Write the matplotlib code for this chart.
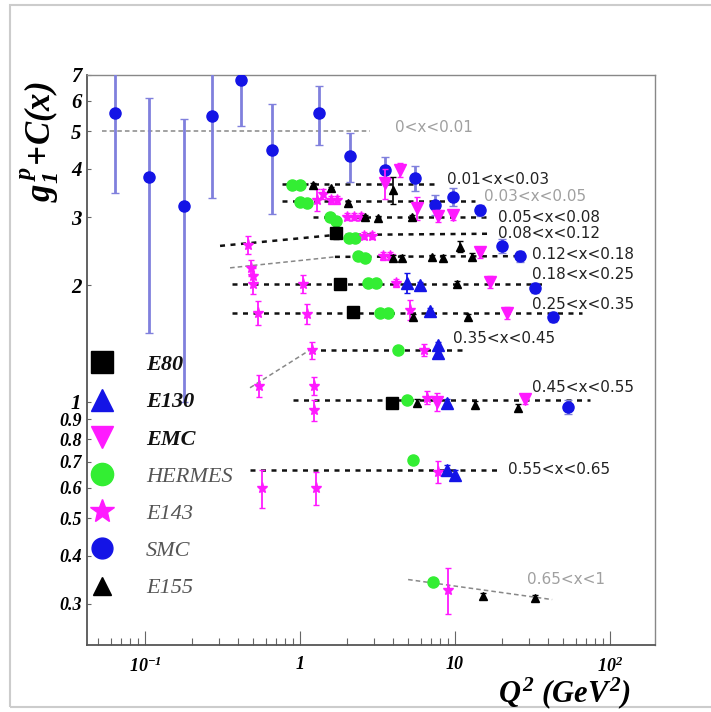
import matplotlib.pyplot as plt
from matplotlib.lines import Line2D
from matplotlib.patches import Rectangle
from matplotlib.font_manager import FontProperties

plt.rcParams['mathtext.fontset'] = 'custom'
plt.rcParams['mathtext.it'] = 'Liberation Serif:italic:bold'
plt.rcParams['mathtext.rm'] = 'Liberation Serif:italic:bold'
plt.rcParams['mathtext.bf'] = 'Liberation Serif:italic:bold'

# g1p + C(x) versus Q^2, one series per experiment
smc_q2 = [0.064, 0.106, 0.179, 0.271, 0.416, 0.660, 1.33, 2.10,
          3.54, 5.52, 7.43, 9.71, 14.5, 20.1, 26.3, 32.8, 42.9, 53.6]
smc_g1 = [5.59, 3.81, 3.20, 5.49, 6.79, 4.48, 5.58, 4.33,
          3.98, 3.79, 3.23, 3.39, 3.13, 2.53, 2.38, 1.97, 1.66, 0.97]
smc_err = [2.13, 2.30, 2.20, 2.12, 1.62, 1.42, 0.97, 0.63,
           0.32, 0.28, 0.19, 0.18, 0.10, 0.10, 0.08, 0.06, 0.05, 0.04]

e80_q2 = [1.71, 1.81, 2.20, 3.92]
e80_g1 = [2.73, 2.02, 1.71, 0.994]
e80_err = [0.10, 0.05, 0.04, 0.03]

e130_q2 = [4.90, 5.94, 6.90, 7.77, 7.77, 8.88, 8.88, 10.0]
e130_g1 = [2.03, 2.01, 1.72, 1.40, 1.34, 0.994, 0.667, 0.648]
e130_err = [0.12, 0.03, 0.03, 0.03, 0.03, 0.02, 0.02, 0.02]

e155_q2 = [1.21, 1.59, 3.98, 2.04, 2.63, 3.19, 5.28, 3.98, 4.55, 7.11, 8.37,
           10.8, 12.9, 10.3, 5.36, 12.1, 5.69, 13.5, 25.5, 15.2, 32.8]
e155_g1 = [3.64, 3.57, 3.53, 3.27, 3.01, 2.99, 3.01, 2.36, 2.36, 2.37, 2.36,
           2.52, 2.37, 2.02, 1.66, 1.66, 0.994, 0.982, 0.965, 0.315, 0.311]
e155_err = [0.03, 0.03, 0.28, 0.03, 0.03, 0.03, 0.03, 0.03, 0.03, 0.03, 0.03,
            0.08, 0.05, 0.03, 0.03, 0.03, 0.02, 0.02, 0.02, 0.006, 0.006]

hermes_q2 = [0.888, 1.0, 1.0, 1.11, 1.56, 1.71, 2.07, 2.26, 2.37, 2.63, 2.75,
             3.09, 3.28, 3.70, 4.29, 4.90, 5.36, 7.21]
hermes_g1 = [3.64, 3.64, 3.29, 3.27, 3.01, 2.94, 2.65, 2.65, 2.38, 2.36, 2.03,
             2.03, 1.70, 1.70, 1.36, 1.01, 0.708, 0.341]

e143_q2 = [1.29, 1.41, 1.59, 1.73, 2.01, 2.23, 2.48, 0.462, 2.59, 2.91,
           0.483, 0.497, 3.43, 3.81, 0.497, 1.05, 4.16, 0.536, 1.11, 5.13,
           0.544, 1.20, 6.31, 1.23, 1.23, 6.60, 0.569, 1.27, 7.77, 9.01]
e143_g1 = [3.33, 3.45, 3.33, 3.33, 3.01, 3.01, 3.01, 2.55, 2.69, 2.69,
           2.22, 2.12, 2.38, 2.38, 2.02, 2.02, 2.03, 1.70, 1.69, 1.73,
           1.10, 1.36, 1.36, 1.10, 0.953, 1.024, 0.600, 0.600, 0.659, 0.327]
e143_err = [0.22, 0.10, 0.08, 0.08, 0.06, 0.06, 0.06, 0.14, 0.06, 0.06,
            0.10, 0.10, 0.06, 0.06, 0.12, 0.11, 0.05, 0.12, 0.10, 0.10,
            0.07, 0.07, 0.05, 0.06, 0.06, 0.04, 0.068, 0.058, 0.043, 0.044]

emc_q2 = [3.54, 4.42, 5.69, 7.77, 9.71, 14.5, 16.8, 21.7, 7.66, 28.3]
emc_g1 = [3.68, 3.98, 3.17, 3.02, 3.04, 2.44, 2.04, 1.70, 1.00, 1.018]
emc_err = [0.33, 0.17, 0.21, 0.11, 0.08, 0.08, 0.07, 0.06, 0.055, 0.03]

# x-bin labels and the fit curves drawn through each bin
bin_labels = ['0<x<0.01', '0.01<x<0.03', '0.03<x<0.05', '0.05<x<0.08',
              '0.08<x<0.12', '0.12<x<0.18', '0.18<x<0.25', '0.25<x<0.35',
              '0.35<x<0.45', '0.45<x<0.55', '0.55<x<0.65', '0.65<x<1']
label_q2 = [4.1, 8.9, 15.4, 18.9, 18.9, 31.4, 31.4, 31.4, 9.7, 31.4, 22.0, 29.2]
label_g1 = [5.13, 3.75, 3.39, 2.99, 2.73, 2.40, 2.13, 1.78, 1.455, 1.087, 0.667, 0.347]
label_gray = [True, False, True, False, False, False, False, False, False, False, False, True]

fit_q2 = [[0.0528, 2.83], [0.765, 7.66], [0.765, 13.5], [1.21, 16.8],
          [0.305, 1.68, 16.8], [0.354, 1.68], [1.68, 28.3], [0.364, 38.1],
          [0.364, 66.0], [0.476, 1.16], [1.16, 11.3], [0.90, 74.3],
          [0.476, 18.7], [4.98, 42.3]]
fit_g1 = [[5.0, 5.0], [3.66, 3.66], [3.31, 3.31], [3.01, 3.01],
          [2.53, 2.70, 2.72], [2.22, 2.37], [2.37, 2.38], [2.02, 2.02],
          [1.70, 1.70], [1.087, 1.362], [1.362, 1.362], [1.01, 1.01],
          [0.667, 0.667], [0.347, 0.308]]
fit_gray = [True, False, False, False, False, True, False, False,
            False, True, False, False, False, True]

BLUE = '#1414e6'
MAGENTA = '#ff1aff'
GREEN = '#33ee33'

fig = plt.figure(figsize=(7.11, 7.12), dpi=100)
fig.patches.append(Rectangle((0.014, 0.007), 1.2, 0.986, transform=fig.transFigure,
                             fill=False, edgecolor='#cccccc', lw=1.5))
ax = fig.add_axes([0.1224, 0.0941, 0.7989, 0.8006])
ax.set_xscale('log')
ax.set_yscale('log')

for xs, ys, gray in zip(fit_q2, fit_g1, fit_gray):
    if gray:
        ax.plot(xs, ys, color='#888888', lw=1.1, ls=(0, (3, 2)), zorder=1)
    else:
        ax.plot(xs, ys, color='#111111', lw=1.8, ls=(0, (2, 2.2)), zorder=1)

ax.errorbar(smc_q2, smc_g1, yerr=smc_err, fmt='o', color=BLUE, ms=8,
            ecolor='#8080dd', elinewidth=2, capsize=3, zorder=3)
ax.errorbar(e143_q2, e143_g1, yerr=e143_err, fmt='*', color=MAGENTA, ms=8,
            ecolor=MAGENTA, elinewidth=1.3, capsize=2.5, zorder=4)
ax.errorbar(emc_q2, emc_g1, yerr=emc_err, fmt='v', color=MAGENTA, ms=8,
            ecolor=MAGENTA, elinewidth=1.3, capsize=2.5, zorder=4)
ax.plot(hermes_q2, hermes_g1, 'o', color=GREEN, ms=8, zorder=4)
ax.errorbar(e130_q2, e130_g1, yerr=e130_err, fmt='^', color=BLUE, ms=8,
            ecolor=BLUE, elinewidth=1.3, capsize=2.5, zorder=5)
ax.errorbar(e80_q2, e80_g1, yerr=e80_err, fmt='s', color='black', ms=8,
            ecolor='black', elinewidth=1.3, capsize=2.5, zorder=5)
ax.errorbar(e155_q2, e155_g1, yerr=e155_err, fmt='^', color='black', ms=6,
            ecolor='black', elinewidth=1.2, capsize=2.5, zorder=5)

for txt, q, g, gray in zip(bin_labels, label_q2, label_g1, label_gray):
    ax.text(q, g, txt, fontsize=11, family='DejaVu Sans', va='center', ha='left',
            color='#a0a0a0' if gray else '#222222')

ax.set_xlim(0.0423, 195)
ax.set_ylim(0.235, 7.0)

tick_font = FontProperties(family='Liberation Serif', style='italic', weight='bold', size=13)
yticks = [0.3, 0.4, 0.5, 0.6, 0.7, 0.8, 0.9, 1, 2, 3, 4, 5, 6, 7]
ax.set_yticks(yticks)
ax.set_yticklabels(['0.3', '0.4', '0.5', '0.6', '0.7', '0.8', '0.9',
                    '1', '2', '3', '4', '5', '6', '7'], fontproperties=tick_font)
for lab in ax.get_yticklabels()[7:]:
    lab.set_fontsize(15)
ax.yaxis.set_minor_locator(plt.NullLocator())
ax.set_xticks([0.1, 1, 10, 100])
ax.set_xticklabels([r'$10^{-1}$', '1', '10', r'$10^{2}$'], fontproperties=tick_font)
ax.tick_params(axis='y', which='major', direction='in', length=3, width=0.8,
               color='#666666', pad=4)
ax.tick_params(axis='x', which='major', direction='in', length=10, width=0.8,
               color='#666666', pad=8)
ax.tick_params(axis='x', which='minor', direction='in', length=5, width=0.8,
               color='#666666')

for side in ['left', 'bottom']:
    ax.spines[side].set_color('#555555')
    ax.spines[side].set_linewidth(1.3)
for side in ['top', 'right']:
    ax.spines[side].set_color('#888888')
    ax.spines[side].set_linewidth(1.0)

fig.text(40 / 711, 1 - 142 / 712, r'$g_1^{\,p}\!+\!C(x)$', rotation=90,
         fontsize=25, ha='center', va='center')
fig.text(565 / 711, 1 - 702 / 712, r'$Q^2\ (GeV^2)$', fontsize=22,
         ha='center', va='baseline')

handles = [
    Line2D([], [], ls='', marker='s', color='black', ms=16),
    Line2D([], [], ls='', marker='^', color=BLUE, ms=16),
    Line2D([], [], ls='', marker='v', color=MAGENTA, ms=16),
    Line2D([], [], ls='', marker='o', color=GREEN, ms=16),
    Line2D([], [], ls='', marker='*', color=MAGENTA, ms=18),
    Line2D([], [], ls='', marker='o', color=BLUE, ms=15),
    Line2D([], [], ls='', marker='^', color='black', ms=13),
]
names = ['E80', 'E130', 'EMC', 'HERMES', 'E143', 'SMC', 'E155']
leg = ax.legend(handles, names, loc='upper left', bbox_to_anchor=(-0.025, 0.533),
                frameon=False, borderaxespad=0.2, handlelength=1.4,
                handletextpad=1.3, labelspacing=0.75,
                prop=FontProperties(family='Liberation Serif', style='italic', size=16))
for i, t in enumerate(leg.get_texts()):
    if i < 3:
        t.set_color('#111111')
        t.set_fontweight('bold')
    else:
        t.set_color('#555555')

fig.savefig('out.png', dpi=100)
